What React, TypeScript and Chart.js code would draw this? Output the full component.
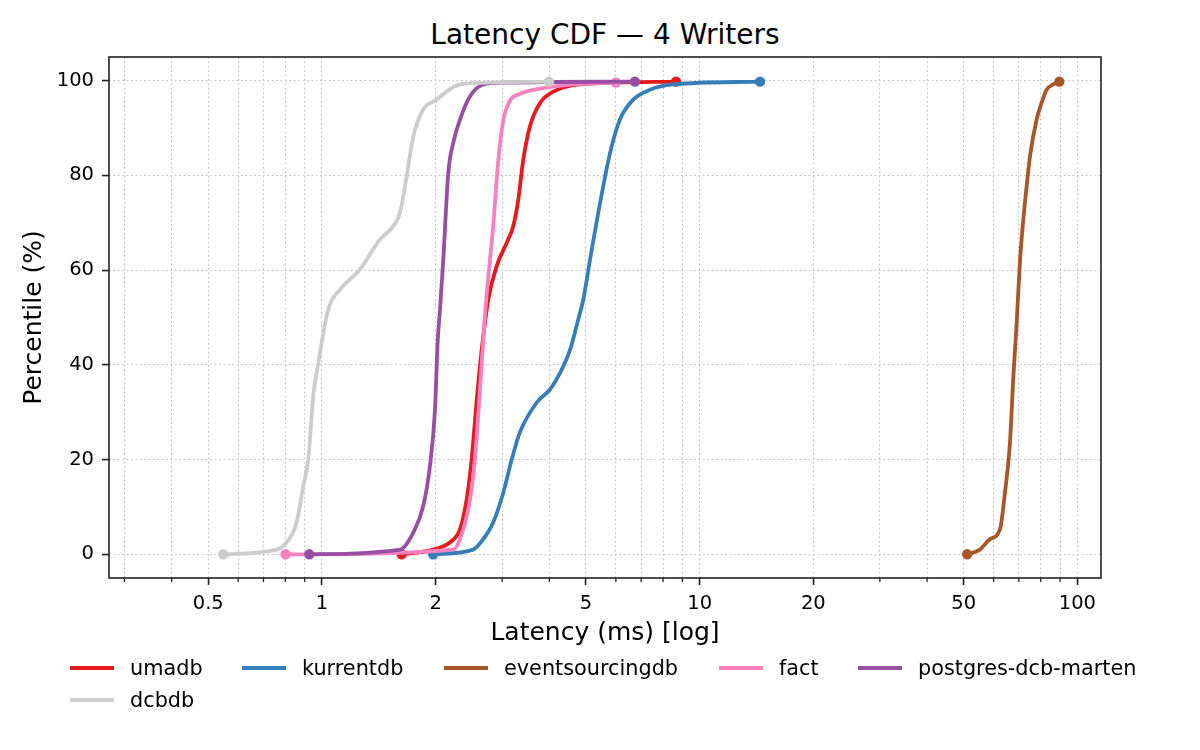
import React, { useEffect, useRef } from "react";
import Chart from "chart.js/auto";

// series, in the order they were plotted (last one ends up on top)
const seriesNames = ["umadb", "kurrentdb", "eventsourcingdb", "fact", "postgres-dcb-marten", "dcbdb"];
const seriesColors = ["#e41a1c", "#377eb8", "#a65628", "#f781bf", "#984ea3", "#cccccc"];

// latency in ms / percentile in %
const umadbLatency = [1.625, 1.97, 2.18, 2.32, 2.416, 2.49, 2.57, 2.648, 2.757, 2.9, 3.113, 3.21, 3.31, 3.41, 3.554, 3.78, 4.1, 4.82, 8.66];
const umadbPercentile = [0, 1, 2.5, 5.3, 11.6, 20, 32.7, 43.2, 53.8, 60.8, 66.5, 69.3, 74.9, 83.2, 90.4, 95.3, 97.7, 99.2, 99.8];

const kurrentdbLatency = [1.97, 2.515, 2.674, 2.84, 3.02, 3.18, 3.34, 3.7, 4.015, 4.27, 4.54, 4.77, 4.92, 5.125, 5.45, 5.79, 6.15, 6.67, 7.39, 8.51, 14.45];
const kurrentdbPercentile = [0, 1, 3.2, 6.7, 13, 20, 25.7, 32, 34.8, 38.3, 43.2, 49.6, 53.8, 62.2, 74.2, 84.7, 91.8, 96, 98.1, 99.2, 99.8];

const eventsourcingdbLatency = [51.1, 55.2, 58.7, 62.4, 64.3, 66.3, 67.7, 69.0, 70.5, 71.9, 73.4, 74.9, 78.0, 80.4, 82.9, 86.3, 89.6];
const eventsourcingdbPercentile = [0, 1, 3.2, 5.3, 13, 23.5, 37.6, 48.2, 62.1, 70.5, 77.7, 84, 91.8, 95.3, 98.1, 99.2, 99.8];

const factLatency = [0.801, 2.227, 2.367, 2.466, 2.54, 2.61, 2.71, 2.84, 2.93, 3.02, 3.147, 3.34, 3.78, 4.63, 6.0];
const factPercentile = [0, 1, 5.3, 11.6, 20, 32.7, 52, 69.3, 83.2, 91.6, 95.8, 97.2, 98.3, 99.2, 99.6];

const martenLatency = [0.926, 1.609, 1.745, 1.854, 1.931, 1.992, 2.025, 2.055, 2.095, 2.16, 2.227, 2.32, 2.466, 2.674, 3.02, 6.74];
const martenPercentile = [0, 1, 4.6, 10.2, 18.6, 30.6, 45, 52, 62.2, 80.5, 86.9, 91.8, 96.7, 99.2, 99.6, 99.8];

const dcbdbLatency = [0.548, 0.759, 0.806, 0.857, 0.892, 0.92, 0.948, 0.978, 1.039, 1.116, 1.26, 1.424, 1.545, 1.609, 1.676, 1.745, 1.854, 2.012, 2.274, 2.57, 3.99];
const dcbdbPercentile = [0, 1, 2.5, 6.7, 14.4, 20, 33.4, 40.4, 51.7, 55.9, 60.1, 66.5, 69.3, 72.1, 79.8, 88.2, 93.9, 96, 99, 99.5, 99.8];

const latencies = [umadbLatency, kurrentdbLatency, eventsourcingdbLatency, factLatency, martenLatency, dcbdbLatency];
const percentiles = [umadbPercentile, kurrentdbPercentile, eventsourcingdbPercentile, factPercentile, martenPercentile, dcbdbPercentile];

// axis ticks
const xTickValues = [0.3, 0.4, 0.5, 0.6, 0.7, 0.8, 0.9, 1, 2, 3, 4, 5, 6, 7, 8, 9, 10, 20, 30, 40, 50, 60, 70, 80, 90, 100];
const xTickLabels = [0.5, 1, 2, 5, 10, 20, 50, 100];
const yTickValues = [0, 20, 40, 60, 80, 100];

// legend: 5 columns, wraps to a second row
const legendLeft = [70, 242, 444, 719, 858, 70];
const legendTop = [668, 668, 668, 668, 668, 700];

const FONT = "'DejaVu Sans', sans-serif";
const AXIS = "#222222";
const GRID = "#c4c4c4";

const labelSet = new Set(xTickLabels);

// short minor ticks + the box around the axes
const framePlugin = {
  id: "frame",
  afterDraw(chart: any) {
    const { ctx, chartArea, scales } = chart;
    ctx.save();
    ctx.strokeStyle = AXIS;
    ctx.lineWidth = 1.3;
    xTickValues
      .filter((v) => !labelSet.has(v))
      .forEach((v) => {
        const px = scales.x.getPixelForValue(v);
        ctx.beginPath();
        ctx.moveTo(px, chartArea.bottom);
        ctx.lineTo(px, chartArea.bottom + 4);
        ctx.stroke();
      });
    ctx.lineWidth = 1.6;
    ctx.strokeRect(chartArea.left, chartArea.top, chartArea.right - chartArea.left, chartArea.bottom - chartArea.top);
    ctx.restore();
  },
};

const LatencyCdfChart: React.FC = () => {
  const chartRef = useRef<HTMLCanvasElement | null>(null);
  const chartInstance = useRef<Chart | null>(null);

  useEffect(() => {
    if (!chartRef.current) return;
    if (chartInstance.current) chartInstance.current.destroy();

    const datasets = seriesNames.map((name, i) => ({
      label: name,
      data: latencies[i].map((x, j) => ({ x, y: percentiles[i][j] })),
      borderColor: seriesColors[i],
      backgroundColor: seriesColors[i],
      pointBackgroundColor: seriesColors[i],
      borderWidth: 3.8,
      borderJoinStyle: "round" as const,
      cubicInterpolationMode: "monotone" as const,
      fill: false,
      order: seriesNames.length - i,
      pointBorderWidth: 0,
      pointHoverRadius: 0,
      pointRadius: (c: any) => (c.dataIndex === 0 || c.dataIndex === latencies[i].length - 1 ? 5.2 : 0),
    }));

    chartInstance.current = new Chart(chartRef.current, {
      type: "line",
      data: { datasets },
      plugins: [framePlugin],
      options: {
        responsive: false,
        animation: false,
        layout: { padding: { left: 0, top: 57, right: 99, bottom: 100 } },
        plugins: {
          legend: { display: false },
          title: { display: false },
          tooltip: { enabled: false },
        },
        scales: {
          x: {
            type: "logarithmic",
            min: 0.273,
            max: 115.5,
            afterBuildTicks: (scale: any) => {
              scale.ticks = xTickValues.map((v) => ({ value: v }));
            },
            afterFit: (scale: any) => {
              scale.height = 72;
            },
            ticks: {
              autoSkip: false,
              maxRotation: 0,
              minRotation: 0,
              padding: 7,
              color: "#000",
              font: { family: FONT, size: 19.5 },
              callback: (value: any) => (labelSet.has(Number(value)) ? String(value) : ""),
            },
            grid: {
              color: GRID,
              lineWidth: 1.1,
              tickLength: 7,
              tickWidth: 1.6,
              tickColor: (c: any) => (c.tick && labelSet.has(c.tick.value) ? AXIS : "rgba(0,0,0,0)"),
            },
            border: { display: false, dash: [1.7, 2.7] },
            title: {
              display: true,
              text: "Latency (ms) [log]",
              color: "#000",
              font: { family: FONT, size: 25 },
              padding: { top: 0, bottom: 2 },
            },
          },
          y: {
            type: "linear",
            min: -5,
            max: 105,
            afterBuildTicks: (scale: any) => {
              scale.ticks = yTickValues.map((v) => ({ value: v }));
            },
            afterFit: (scale: any) => {
              scale.width = 109;
            },
            ticks: {
              padding: 8,
              color: "#000",
              font: { family: FONT, size: 19.5 },
            },
            grid: {
              color: GRID,
              lineWidth: 1.1,
              tickLength: 7,
              tickWidth: 1.6,
              tickColor: AXIS,
            },
            border: { display: false, dash: [1.7, 2.7] },
            title: {
              display: true,
              text: "Percentile (%)",
              color: "#000",
              font: { family: FONT, size: 25 },
              padding: { top: 19, bottom: 0 },
            },
          },
        },
      },
    });

    return () => {
      if (chartInstance.current) {
        chartInstance.current.destroy();
        chartInstance.current = null;
      }
    };
  }, []);

  return (
    <div
      style={{
        position: "absolute",
        left: 0,
        top: 0,
        width: 1200,
        height: 750,
        background: "#fff",
        fontFamily: FONT,
        color: "#000",
      }}
    >
      <div
        style={{
          position: "absolute",
          left: 109,
          width: 992,
          top: 21,
          fontSize: 28,
          lineHeight: "28px",
          textAlign: "center",
          whiteSpace: "nowrap",
        }}
      >
        Latency CDF — 4 Writers
      </div>
      <canvas ref={chartRef} width={1200} height={750} style={{ position: "absolute", left: 0, top: 0 }} />
      {seriesNames.map((name, i) => (
        <div
          key={name}
          style={{
            position: "absolute",
            left: legendLeft[i],
            top: legendTop[i] - 15,
            height: 30,
            display: "flex",
            alignItems: "center",
            fontSize: 20.8,
            whiteSpace: "nowrap",
          }}
        >
          <span style={{ display: "inline-block", width: 44, height: 4, background: seriesColors[i], marginRight: 16, flex: "none" }} />
          <span>{name}</span>
        </div>
      ))}
    </div>
  );
};

export default function App() {
  return <LatencyCdfChart />;
}
